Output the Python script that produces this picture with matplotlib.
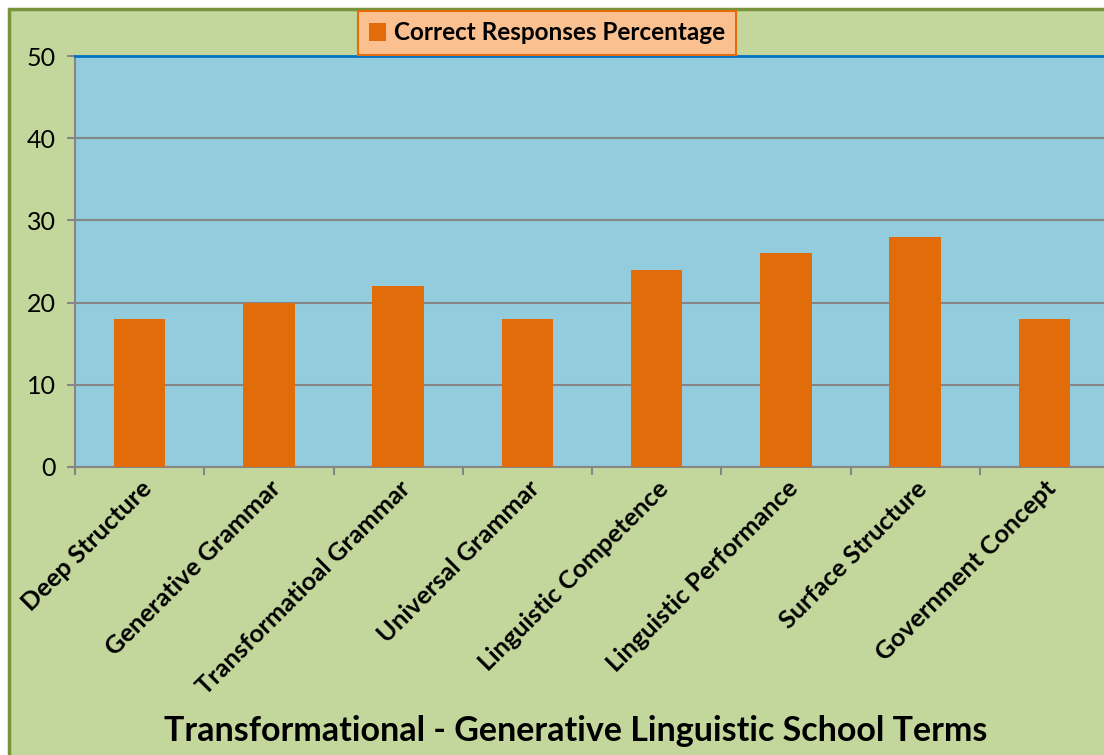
import numpy as np
import matplotlib
matplotlib.use("Agg")
import matplotlib.pyplot as plt
from matplotlib.patches import Rectangle

terms = ["Deep Structure", "Generative Grammar", "Transformatioal Grammar",
         "Universal Grammar", "Linguistic Competence", "Linguistic Performance",
         "Surface Structure", "Government Concept"]
percent = [18, 20, 22, 18, 24, 26, 28, 18]
y_ticks = [0, 10, 20, 30, 40, 50]

plt.rcParams['font.family'] = ['Lato', 'DejaVu Sans']

W, H = 1104, 755
fig = plt.figure(figsize=(W / 100, H / 100), dpi=100)
fig.patch.set_facecolor("white")

# outer chart area (cropped at right/bottom)
fig.patches.append(Rectangle((9 / W, -0.05), 1.1, 1 - 9 / H + 0.05,
                             transform=fig.transFigure, facecolor="#C3D69B",
                             edgecolor="#77933C", linewidth=2.5, zorder=-1))

ax = fig.add_axes([75 / W, 1 - 467 / H, 1034 / W, 411 / H])
ax.set_facecolor("#93CDDD")

x = np.arange(len(terms))
ax.bar(x, percent, width=0.4, color="#E36C0A", zorder=3,
       label="Correct Responses Percentage")

ax.set_xlim(-0.5, len(terms) - 0.5)
ax.set_ylim(0, 50)
ax.set_yticks(y_ticks)
ax.yaxis.grid(True, color="#868686", linewidth=1.5, zorder=1)
ax.set_axisbelow(True)

for s in ["left", "bottom"]:
    ax.spines[s].set_color("#868686")
    ax.spines[s].set_linewidth(1.5)
ax.spines["right"].set_visible(False)
ax.spines["top"].set_color("#0070C0")
ax.spines["top"].set_linewidth(2)

ax.tick_params(axis="y", length=6, width=1.5, color="#868686",
               labelsize=18, pad=8)
ax.set_xticks(x)
ax.set_xticklabels(terms, rotation=45, ha="right", va="top",
                   rotation_mode="anchor", fontsize=18.3, fontweight="bold")
ax.tick_params(axis="x", which="major", length=0, pad=7)
ax.set_xticks(np.arange(len(terms) + 1) - 0.5, minor=True)
ax.tick_params(axis="x", which="minor", length=6, width=1.5, color="#868686")

fig.text(576 / W, 1 - 731 / H, "Transformational - Generative Linguistic School Terms",
         ha="center", va="center", fontsize=24.5, fontweight="bold")

leg = fig.legend(loc="center", bbox_to_anchor=(547 / W, 1 - 33 / H),
                 frameon=True, fancybox=False,
                 prop={"weight": "bold", "size": 17.5},
                 handlelength=0.7, handleheight=0.7, handletextpad=0.3,
                 borderpad=0.45)
leg.get_frame().set_facecolor("#FAC090")
leg.get_frame().set_edgecolor("#E46C0A")
leg.get_frame().set_linewidth(1.5)
leg.get_frame().set_alpha(1)

fig.savefig("out.png", dpi=100)
